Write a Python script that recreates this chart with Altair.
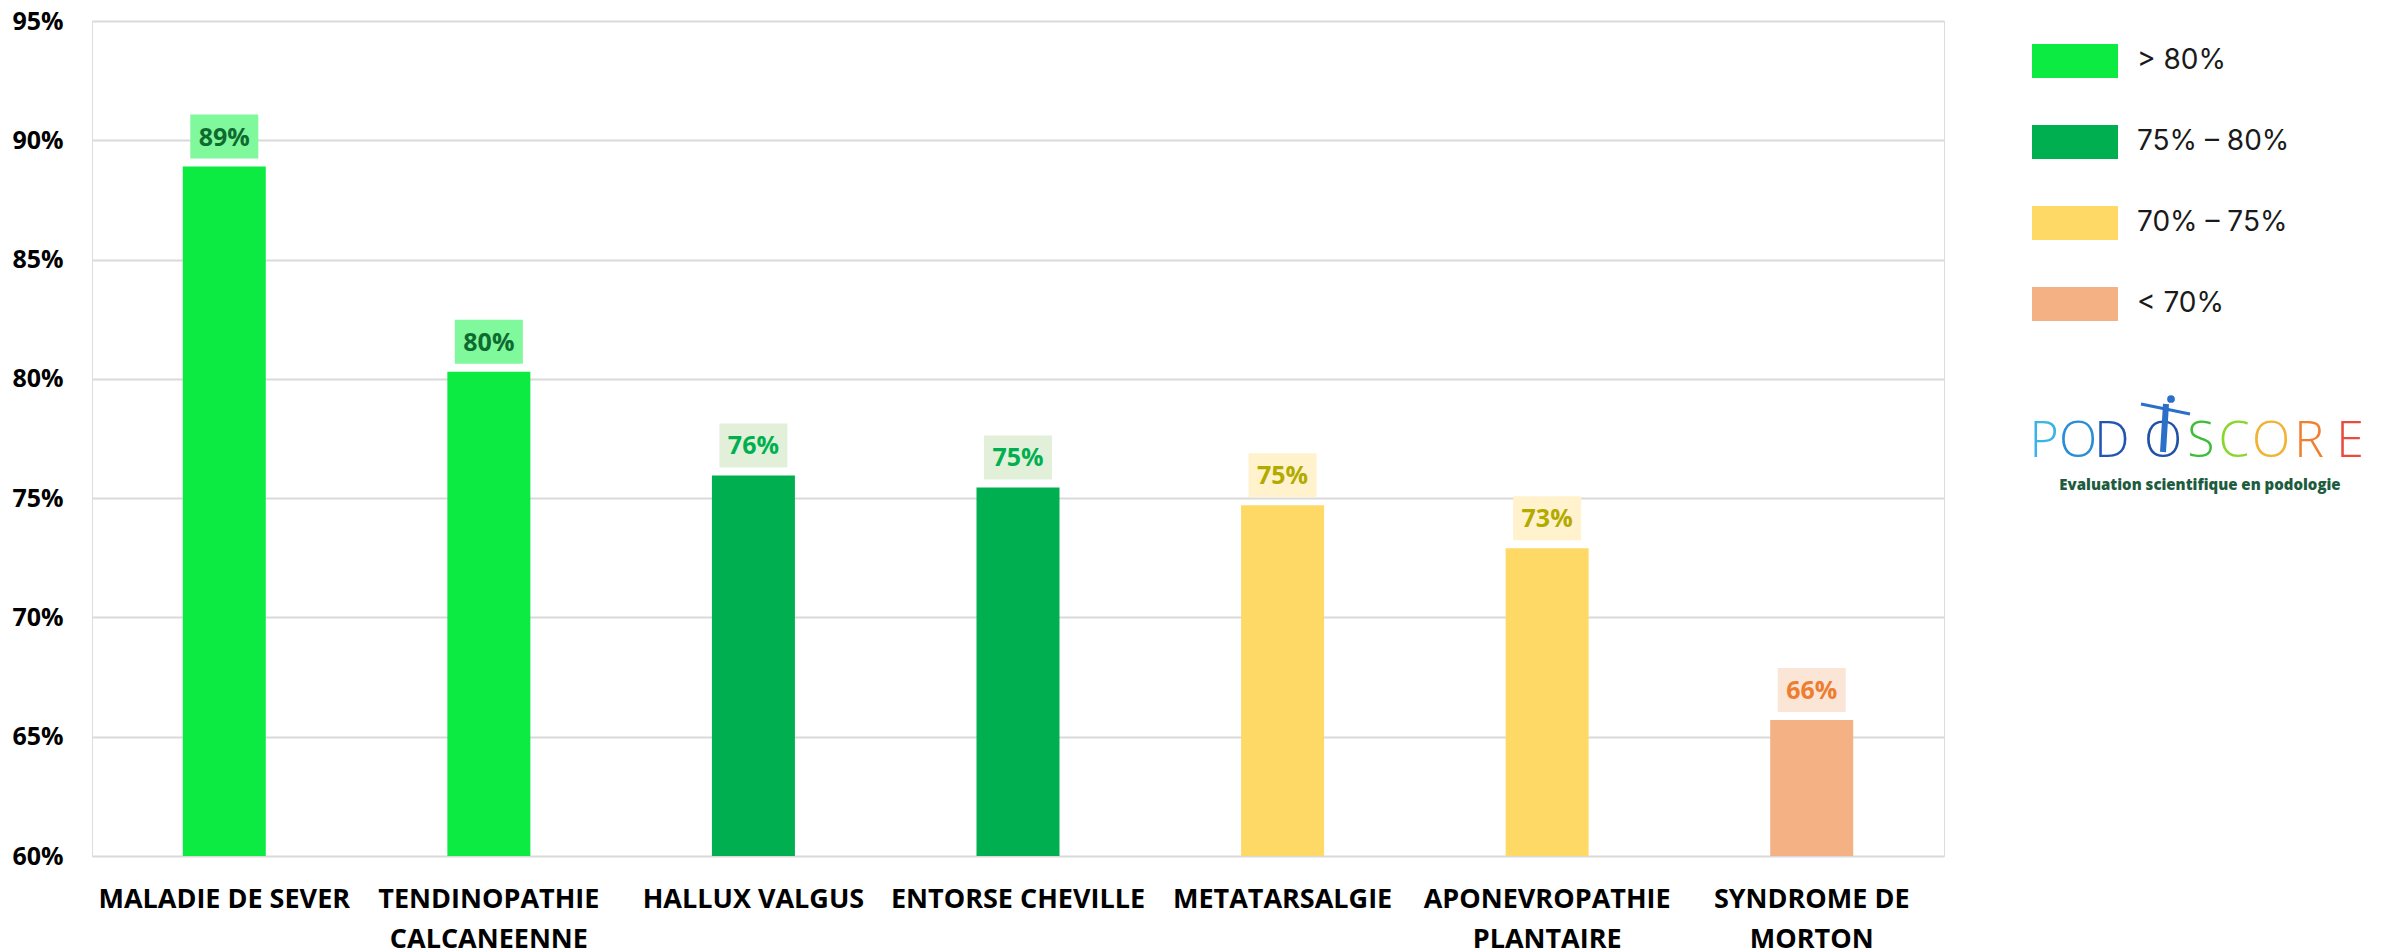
import altair as alt
import pandas as pd

categories = [
    "MALADIE DE SEVER",
    "TENDINOPATHIE\nCALCANEENNE",
    "HALLUX VALGUS",
    "ENTORSE CHEVILLE",
    "METATARSALGIE",
    "APONEVROPATHIE\nPLANTAIRE",
    "SYNDROME DE\nMORTON",
]
values = [88.9, 80.3, 75.95, 75.45, 74.7, 72.9, 65.7]
value_labels = ["89%", "80%", "76%", "75%", "75%", "73%", "66%"]

bins = ["> 80%", "75% \u2013 80%", "70% \u2013 75%", "< 70%"]
bar_colors = ["#0CEB42", "#00B050", "#FFD966", "#F4B183"]
box_colors = ["#80F89C", "#E2F0D9", "#FFF2CC", "#FBE5D6"]
text_colors = ["#0E6B30", "#00B050", "#B3AA00", "#ED7D31"]
y_ticks = [60, 65, 70, 75, 80, 85, 90, 95]


def bin_index(v):
    if v > 80:
        return 0
    if v >= 75:
        return 1
    if v >= 70:
        return 2
    return 3


idx = [bin_index(v) for v in values]
df = pd.DataFrame({
    "cat": categories,
    "val": values,
    "lab": value_labels,
    "bin": [bins[i] for i in idx],
    "box": [box_colors[i] for i in idx],
    "tcol": [text_colors[i] for i in idx],
})

W, H = 1852, 835
FONT = "Open Sans"

x_enc = alt.X(
    "cat:N", sort=categories, title=None,
    scale=alt.Scale(paddingInner=0, paddingOuter=0),
    axis=alt.Axis(
        labelExpr="split(datum.label, '\\n')",
        labelAngle=0, labelFont=FONT, labelFontSize=27, labelFontWeight="bold",
        labelColor="#000000", labelPadding=30, labelLineHeight=40,
        labelBaseline="top", ticks=False, domain=False, grid=False,
        labelLimit=400,
    ),
)
y_enc = alt.Y(
    "val:Q", title=None,
    scale=alt.Scale(domain=[60, 95], nice=False, zero=False),
    axis=alt.Axis(
        values=y_ticks, labelExpr="datum.value + '%'", labelFont=FONT,
        labelFontSize=25, labelFontWeight="bold", labelColor="#000000",
        labelPadding=29, ticks=False, domain=False, grid=True,
        gridColor="#D9D9D9", gridWidth=2,
    ),
)

bars = alt.Chart(df).mark_bar(size=83, clip=True).encode(
    x=x_enc,
    y=y_enc,
    color=alt.Color(
        "bin:N",
        scale=alt.Scale(domain=bins, range=bar_colors),
        legend=alt.Legend(
            orient="none", legendX=1940, legendY=-3, title=None,
            symbolType="M-1,-0.395H1V0.395H-1Z", symbolSize=7396,
            symbolStrokeWidth=0, symbolOpacity=1, labelFont="Inter",
            labelFontSize=28, labelColor="#1A1A1A", rowPadding=21,
            labelOffset=19, padding=0, labelLimit=400,
        ),
    ),
)

boxes = alt.Chart(df).mark_point(
    shape="M-1,-0.647H1V0.647H-1Z", filled=True, size=4624, opacity=1,
    yOffset=-30, strokeWidth=0,
).encode(
    x=alt.X("cat:N", sort=categories),
    y="val:Q",
    color=alt.Color("box:N", scale=None),
)

texts = alt.Chart(df).mark_text(
    font=FONT, fontSize=25, fontWeight="bold", baseline="middle", dy=-29,
).encode(
    x=alt.X("cat:N", sort=categories),
    y="val:Q",
    text="lab:N",
    color=alt.Color("tcol:N", scale=None),
)

# Logo (decoration)
one = alt.Data(values=[{"a": 1}])
logo_letters = [
    ("P", 2044, "#3AB4E6"), ("O", 2078, "#2A8ED6"), ("D", 2112, "#2254B4"),
    ("O", 2163, "#2050A8"), ("S", 2201, "#3DBE3A"), ("C", 2234, "#8AD62E"),
    ("O", 2271, "#F2B233"), ("R", 2309, "#F08030"), ("E", 2350, "#E84C3D"),
]
OX, OY = 92, 21
logo_layers = []
for ch, px, col in logo_letters:
    logo_layers.append(
        alt.Chart(one).mark_text(
            text=ch, font="Open Sans", fontSize=50, fontWeight=300, color=col,
            baseline="alphabetic", align="center",
        ).encode(x=alt.value(px - OX), y=alt.value(457 - OY))
    )
# small figure above the O
fig_col = "#2A6FC8"
head = alt.Chart(one).mark_point(filled=True, size=60, color=fig_col, opacity=1).encode(
    x=alt.value(2171 - OX), y=alt.value(399 - OY))
arms = alt.Chart(one).mark_rule(color=fig_col, strokeWidth=3).encode(
    x=alt.value(2141 - OX), x2=alt.value(2190 - OX),
    y=alt.value(404 - OY), y2=alt.value(414 - OY))
body = alt.Chart(one).mark_rule(color=fig_col, strokeWidth=6).encode(
    x=alt.value(2166 - OX), x2=alt.value(2163 - OX),
    y=alt.value(404 - OY), y2=alt.value(452 - OY))
tagline = alt.Chart(one).mark_text(
    text="Evaluation scientifique en podologie", font=FONT, fontSize=15,
    fontWeight=800, color="#1D5C3E", baseline="middle", align="center",
).encode(x=alt.value(2200 - OX), y=alt.value(485 - OY))

chart = alt.layer(bars, boxes, texts, *logo_layers, head, arms, body, tagline).properties(
    width=W, height=H,
    autosize=alt.AutoSizeParams(type="none"),
    padding={"left": 84, "top": 13, "right": 2365 - 84 - W, "bottom": 941 - 13 - H},
).configure_view(stroke=None).configure(background="#FFFFFF")

chart.save("out.html", embed_options={"renderer": "svg", "actions": False})
